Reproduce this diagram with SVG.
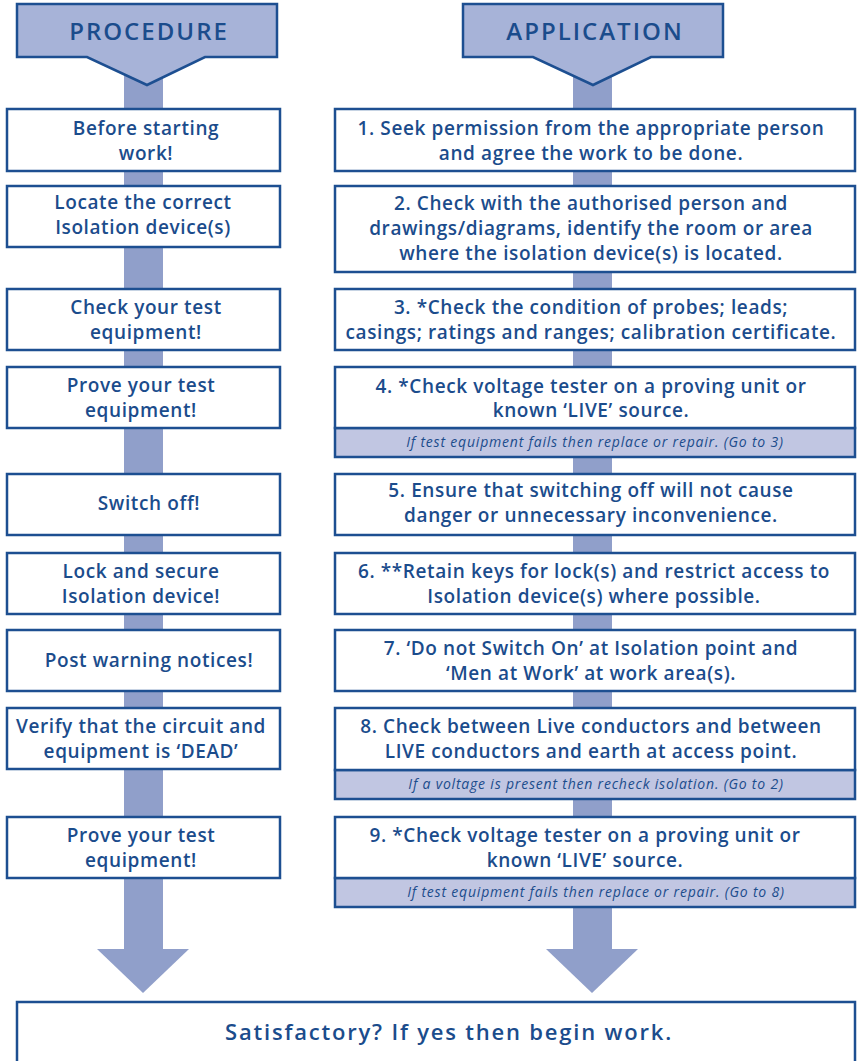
<svg xmlns="http://www.w3.org/2000/svg" width="857" height="1061" viewBox="0 0 857 1061">
<style>
.box{fill:#ffffff;stroke:#1d4f91;stroke-width:2.5}
.sub{fill:#c1c6e2;stroke:#1d4f91;stroke-width:2.5}
.hdr{fill:#a7b3d8;stroke:#1d4f91;stroke-width:2.5}
.bar{fill:#909fca}
.t{font-family:"Open Sans","Liberation Sans",sans-serif;font-weight:600;font-size:19px;letter-spacing:0.6px;fill:#1b4c8c;text-anchor:middle}
.s{font-family:"Open Sans","Liberation Sans",sans-serif;font-style:italic;font-size:14px;letter-spacing:0.8px;fill:#1b4c8c;text-anchor:middle}
.h{font-family:"Open Sans","Liberation Sans",sans-serif;font-weight:600;font-size:24px;letter-spacing:2px;fill:#1b4c8c;text-anchor:middle}
.b{font-family:"Open Sans","Liberation Sans",sans-serif;font-weight:600;font-size:22px;letter-spacing:1.8px;fill:#1b4c8c;text-anchor:middle}
</style>
<rect width="857" height="1061" fill="#ffffff"/>
<g id="connectors">
<rect class="bar" x="124" y="56" width="39" height="894"/>
<polygon class="bar" points="97,949 189,949 143,993"/>
<rect class="bar" x="573" y="56" width="39" height="894"/>
<polygon class="bar" points="546,949 638,949 592,993"/>
</g>
<g id="hdr-procedure">
<path class="hdr" d="M17,4 H277 V57 H205 L147,85 L87,57 H17 Z"/>
<text class="h" x="149" y="40">PROCEDURE</text>
</g>
<g id="hdr-application">
<path class="hdr" d="M463,4 H723 V57 H651 L593,85 L533,57 H463 Z"/>
<text class="h" x="595" y="40">APPLICATION</text>
</g>
<g id="p1"><rect class="box" x="7" y="109" width="273" height="62"/><text class="t" x="146" y="135">Before starting</text><text class="t" x="146" y="160">work!</text></g>
<g id="p2"><rect class="box" x="7" y="186" width="273" height="61"/><text class="t" x="143" y="209">Locate the correct</text><text class="t" x="143" y="234">Isolation device(s)</text></g>
<g id="p3"><rect class="box" x="7" y="289" width="273" height="61"/><text class="t" x="146" y="314">Check your test</text><text class="t" x="146" y="339">equipment!</text></g>
<g id="p4"><rect class="box" x="7" y="367" width="273" height="61"/><text class="t" x="141" y="392">Prove your test</text><text class="t" x="141" y="417">equipment!</text></g>
<g id="p5"><rect class="box" x="7" y="474" width="273" height="61"/><text class="t" x="149" y="510">Switch off!</text></g>
<g id="p6"><rect class="box" x="7" y="553" width="273" height="61"/><text class="t" x="141" y="578">Lock and secure</text><text class="t" x="141" y="603">Isolation device!</text></g>
<g id="p7"><rect class="box" x="7" y="630" width="273" height="61"/><text class="t" x="149" y="667">Post warning notices!</text></g>
<g id="p8"><rect class="box" x="7" y="708" width="273" height="61"/><text class="t" x="141" y="733">Verify that the circuit and</text><text class="t" x="141" y="758">equipment is ‘DEAD’</text></g>
<g id="p9"><rect class="box" x="7" y="817" width="273" height="61"/><text class="t" x="141" y="842">Prove your test</text><text class="t" x="141" y="867">equipment!</text></g>
<g id="a1"><rect class="box" x="335" y="109" width="520" height="62"/><text class="t" x="591" y="135">1. Seek permission from the appropriate person</text><text class="t" x="591" y="160">and agree the work to be done.</text></g>
<g id="a2"><rect class="box" x="335" y="186" width="520" height="86"/><text class="t" x="591" y="210">2. Check with the authorised person and</text><text class="t" x="591" y="235">drawings/diagrams, identify the room or area</text><text class="t" x="591" y="260">where the isolation device(s) is located.</text></g>
<g id="a3"><rect class="box" x="335" y="289" width="520" height="61"/><text class="t" x="591" y="314">3. *Check the condition of probes; leads;</text><text class="t" x="591" y="339">casings; ratings and ranges; calibration certificate.</text></g>
<g id="a4"><rect class="sub" x="335" y="428" width="520" height="29"/><rect class="box" x="335" y="367" width="520" height="61"/><text class="t" x="591" y="393">4. *Check voltage tester on a proving unit or</text><text class="t" x="591" y="417">known ‘LIVE’ source.</text><text class="s" x="595" y="447">If test equipment fails then replace or repair. (Go to 3)</text></g>
<g id="a5"><rect class="box" x="335" y="474" width="520" height="61"/><text class="t" x="591" y="497">5. Ensure that switching off will not cause</text><text class="t" x="591" y="522">danger or unnecessary inconvenience.</text></g>
<g id="a6"><rect class="box" x="335" y="553" width="520" height="61"/><text class="t" x="594" y="578">6. **Retain keys for lock(s) and restrict access to</text><text class="t" x="594" y="603">Isolation device(s) where possible.</text></g>
<g id="a7"><rect class="box" x="335" y="630" width="520" height="61"/><text class="t" x="591" y="655">7. ‘Do not Switch On’ at Isolation point and</text><text class="t" x="591" y="680">‘Men at Work’ at work area(s).</text></g>
<g id="a8"><rect class="sub" x="335" y="770" width="520" height="29"/><rect class="box" x="335" y="708" width="520" height="62"/><text class="t" x="591" y="733">8. Check between Live conductors and between</text><text class="t" x="591" y="758">LIVE conductors and earth at access point.</text><text class="s" x="596" y="789">If a voltage is present then recheck isolation. (Go to 2)</text></g>
<g id="a9"><rect class="sub" x="335" y="878" width="520" height="29"/><rect class="box" x="335" y="817" width="520" height="61"/><text class="t" x="585" y="842">9. *Check voltage tester on a proving unit or</text><text class="t" x="585" y="867">known ‘LIVE’ source.</text><text class="s" x="596" y="897">If test equipment fails then replace or repair. (Go to 8)</text></g>
<g id="result"><rect class="box" x="17" y="1002" width="838" height="70"/><text class="b" x="449" y="1040">Satisfactory? If yes then begin work.</text></g>
</svg>
